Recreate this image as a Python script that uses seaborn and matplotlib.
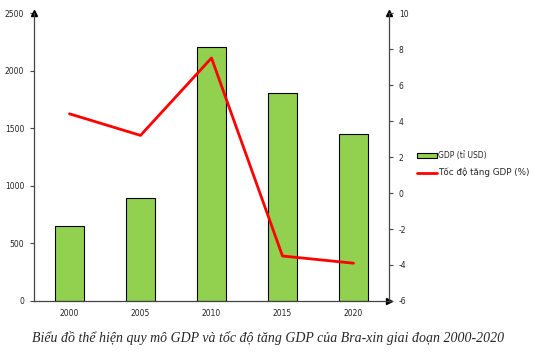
import matplotlib
matplotlib.use("Agg")
import matplotlib.pyplot as plt
import seaborn as sns
import numpy as np
import pandas as pd
from matplotlib.patches import Patch
from matplotlib.lines import Line2D

years = ["2000", "2005", "2010", "2015", "2020"]
gdp = [655, 892, 2209, 1802, 1449]
growth = [4.4, 3.2, 7.5, -3.5, -3.9]
left_ticks = [0, 500, 1000, 1500, 2000, 2500]
right_ticks = [-6, -4, -2, 0, 2, 4, 6, 8, 10]
caption = "Biểu đồ thể hiện quy mô GDP và tốc độ tăng GDP của Bra-xin giai đoạn 2000-2020"
bar_label = "GDP (tỉ USD)"
line_label = "Tốc độ tăng GDP (%)"

sns.set_style("white")
plt.rcParams['font.family'] = ['DejaVu Sans']

df = pd.DataFrame({"year": years, "gdp": gdp, "growth": growth})
df["pos"] = np.arange(len(df))

fig = plt.figure(figsize=(5.37, 3.53), dpi=100)
ax = fig.add_axes([34/537, 52/353, 355/537, 288/353])

sns.barplot(data=df, x="year", y="gdp", order=years, color="#92D050",
            edgecolor="black", linewidth=0.8, width=0.4, saturation=1, ax=ax)
ax.set_xlim(-0.5, len(years) - 0.5)
ax.set_ylim(0, 2500)
ax.set_yticks(left_ticks)
ax.set_yticklabels([str(t) for t in left_ticks], fontsize=5.5, color="#222222")
ax.set_xlabel("")
ax.set_ylabel("")
ax.set_xticks(np.arange(len(years) + 1) - 0.5)
ax.set_xticklabels([])
ax.set_xticks(np.arange(len(years)), minor=True)
ax.set_xticklabels(years, minor=True, fontsize=5.5, color="#222222")
ax.tick_params(axis="x", which="major", length=3, width=0.8, color="#444444", direction="out")
ax.tick_params(axis="x", which="minor", length=0, pad=6)
ax.tick_params(axis="y", length=3, width=0.8, color="#444444", direction="out", pad=4)

for s in ["top", "right"]:
    ax.spines[s].set_visible(False)
for s in ["left", "bottom"]:
    ax.spines[s].set_color("#444444")
    ax.spines[s].set_linewidth(0.9)

ax2 = ax.twinx()
sns.lineplot(data=df, x="pos", y="growth", color="#FF0000", linewidth=2.0, ax=ax2)
ax2.set_ylim(-6, 10)
ax2.set_yticks(right_ticks)
ax2.set_yticklabels([str(t) for t in right_ticks], fontsize=5.5, color="#222222")
ax2.set_xlim(-0.5, len(years) - 0.5)
ax2.set_ylabel("")
ax2.set_xlabel("")
ax2.tick_params(axis="y", length=3, width=0.8, color="#444444", direction="out", pad=4)
for s in ["top", "left", "bottom"]:
    ax2.spines[s].set_visible(False)
ax2.spines["right"].set_color("#444444")
ax2.spines["right"].set_linewidth(0.9)

ax.plot([0], [1.0], marker="^", color="black", markersize=4, transform=ax.transAxes, clip_on=False)
ax.plot([1.0], [1.0], marker="^", color="black", markersize=4, transform=ax.transAxes, clip_on=False)
ax.plot([1.0], [0.0], marker=">", color="black", markersize=4, transform=ax.transAxes, clip_on=False)

handles = [Patch(facecolor="#92D050", edgecolor="black", linewidth=0.8),
           Line2D([0], [0], color="#FF0000", linewidth=2.0)]
leg = fig.legend(handles, [bar_label, line_label], loc="upper left",
                 bbox_to_anchor=(414/537, 1 - 148/353), frameon=False,
                 handlelength=2.6, handleheight=0.6, handletextpad=0.1,
                 labelspacing=1.0, fontsize=5.5, borderaxespad=0)
leg.get_texts()[1].set_fontsize(6.3)

fig.text(268/537, 1 - 338/353, caption, ha="center", va="center",
         fontsize=10, style="italic", family=["Liberation Serif", "DejaVu Serif"])

fig.savefig("out.png", dpi=100)
